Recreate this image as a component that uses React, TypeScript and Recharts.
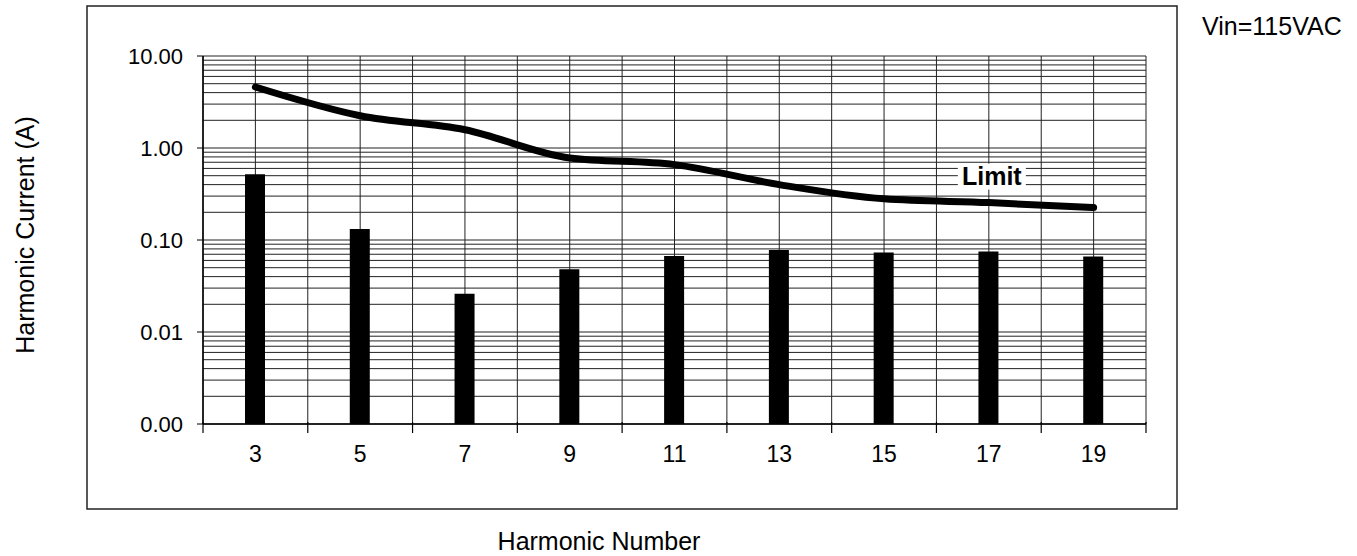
import React from "react";
import { ComposedChart, Bar, Line, XAxis, YAxis, CartesianGrid, LabelList } from "recharts";

const harmonics = [3, 5, 7, 9, 11, 13, 15, 17, 19];
const measuredCurrent = [0.52, 0.132, 0.026, 0.048, 0.067, 0.078, 0.073, 0.075, 0.066];
const limitCurrent = [4.6, 2.24, 1.58, 0.78, 0.66, 0.4, 0.28, 0.255, 0.225];
const limitLabel = "Limit";
const limitLabelAt = 17;

const xTicks = [2, 3, 4, 5, 6, 7, 8, 9, 10, 11, 12, 13, 14, 15, 16, 17, 18, 19, 20];
const xDomain = [2, 20];
const yGridTicks = [
  0.001, 0.002, 0.003, 0.004, 0.005, 0.006, 0.007, 0.008, 0.009,
  0.01, 0.02, 0.03, 0.04, 0.05, 0.06, 0.07, 0.08, 0.09,
  0.1, 0.2, 0.3, 0.4, 0.5, 0.6, 0.7, 0.8, 0.9,
  1, 2, 3, 4, 5, 6, 7, 8, 9, 10,
];
const yLabelTicks = [0.001, 0.01, 0.1, 1, 10];
const yDomain = [0.001, 10];

const data = harmonics.map((h, i) => ({
  h,
  measured: measuredCurrent[i],
  limit: limitCurrent[i],
  tag: h === limitLabelAt ? limitLabel : "",
}));

const FONT = "'Liberation Sans', Arial, Helvetica, sans-serif";

const YTick = (props: any) => {
  const { x, y, payload } = props;
  if (!yLabelTicks.includes(payload.value)) return <g />;
  return (
    <g>
      <line x1={x + 14} x2={x + 20} y1={y} y2={y} stroke="#000" strokeWidth={1} />
      <text x={x} y={y} dy="0.355em" textAnchor="end" fontSize={22} fontFamily={FONT} fill="#000">
        {Number(payload.value).toFixed(2)}
      </text>
    </g>
  );
};

const XTick = (props: any) => {
  const { x, y, payload } = props;
  if (payload.value % 2 === 0) {
    return <line x1={x} x2={x} y1={y - 24} y2={y - 13} stroke="#000" strokeWidth={1.2} />;
  }
  return (
    <text x={x} y={y} dy="0.71em" textAnchor="middle" fontSize={23} fontFamily={FONT} fill="#000">
      {payload.value}
    </text>
  );
};

const LimitTag = (props: any) => {
  const { x, y, value } = props;
  if (!value) return null;
  const cx = x + 3;
  const cy = y - 26;
  return (
    <g>
      <rect x={cx - 34} y={cy - 13} width={68} height={26} fill="#fff" />
      <text x={cx} y={cy} dy="0.355em" textAnchor="middle" fontWeight="bold" fontSize={25} fontFamily={FONT} fill="#000">
        {value}
      </text>
    </g>
  );
};

export default function App() {
  return (
    <div style={{ position: "absolute", left: 0, top: 0, width: 1357, height: 556, background: "#fff" }}>
      <ComposedChart
        width={1357}
        height={556}
        data={data}
        margin={{ top: 56, right: 211, bottom: 102, left: 143 }}
      >
        <rect x={87} y={6} width={1090} height={503} fill="none" stroke="#222" strokeWidth={1.5} />
        <CartesianGrid stroke="#222" strokeWidth={1} />
        <XAxis
          dataKey="h"
          type="number"
          domain={xDomain}
          ticks={xTicks}
          interval={0}
          tickLine={false}
          tickSize={8}
          tickMargin={14}
          tick={<XTick />}
          axisLine={{ stroke: "#000", strokeWidth: 1.5 }}
          height={30}
          allowDataOverflow
        />
        <XAxis xAxisId="top" orientation="top" type="number" domain={xDomain} tick={false} tickLine={false} height={0} axisLine={{ stroke: "#000", strokeWidth: 1.5 }} />
        <YAxis
          type="number"
          scale="log"
          domain={yDomain}
          ticks={yGridTicks}
          interval={0}
          tickLine={false}
          tickSize={6}
          tickMargin={14}
          tick={<YTick />}
          axisLine={{ stroke: "#000", strokeWidth: 1.5 }}
          width={60}
          allowDataOverflow
        />
        <YAxis yAxisId="right" orientation="right" type="number" domain={[0, 1]} tick={false} tickLine={false} width={0} axisLine={{ stroke: "#000", strokeWidth: 1.5 }} />
        <Bar dataKey="measured" fill="#000" barSize={20} isAnimationActive={false} />
        <Line
          dataKey="limit"
          type="monotone"
          stroke="#000"
          strokeWidth={7}
          strokeLinecap="round"
          dot={false}
          isAnimationActive={false}
        >
          <LabelList dataKey="tag" content={<LimitTag />} />
        </Line>
        <text x={25} y={235} transform="rotate(-90 25 235)" textAnchor="middle" dominantBaseline="central" fontSize={25} fontFamily={FONT} fill="#000">
          Harmonic Current (A)
        </text>
        <text x={599} y={541} textAnchor="middle" dominantBaseline="central" fontSize={25} fontFamily={FONT} fill="#000">
          Harmonic Number
        </text>
        <text x={1202} y={35} fontSize={25} fontFamily={FONT} fill="#000">
          Vin=115VAC
        </text>
      </ComposedChart>
    </div>
  );
}
